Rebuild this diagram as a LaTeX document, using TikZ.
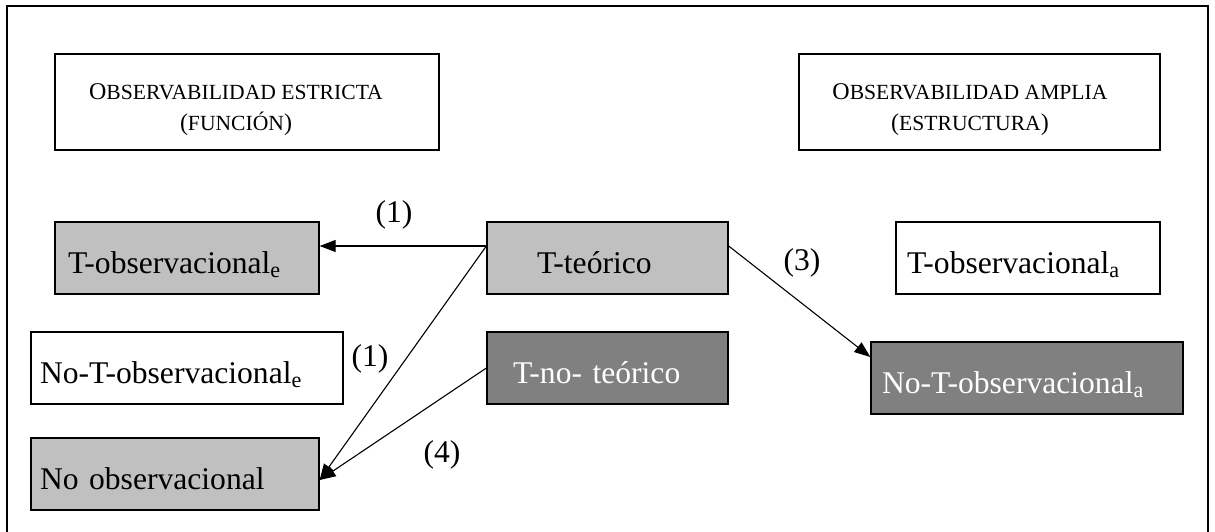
\documentclass[tikz,border=0pt]{standalone}
\usepackage{fontspec}
\setmainfont{Liberation Serif}
\usetikzlibrary{arrows.meta}

\definecolor{lightfill}{HTML}{C0C0C0}
\definecolor{darkfill}{HTML}{808080}

% small capitals made by hand (the font has none)
\newcommand\fsc[1]{{\fontsize{10.8}{15.5}\selectfont #1}}

\tikzset{
  box/.style={draw, line width=0.65pt, minimum height=36pt, inner ysep=0pt,
    align=left, text height=15pt, text depth=0pt,
    font=\fontsize{15.8}{19}\selectfont},
  light/.style={box, fill=lightfill},
  dark/.style={box, fill=darkfill, text=white},
  headbox/.style={draw, line width=0.65pt, minimum width=#1, minimum height=48pt},
  headtext/.style={anchor=base, align=center, inner sep=0pt,
    font=\fontsize{12}{15.5}\selectfont},
  num/.style={inner sep=0pt, font=\fontsize{15.8}{19}\selectfont},
  arr/.style={line width=0.55pt, -{Triangle[length=8pt,width=6pt]}}
}

\begin{document}
\begin{tikzpicture}[x=0.5pt, y=-0.5pt]
        \useasboundingbox (0,0) rectangle (1215,531);
        \draw[line width=0.65pt] (7,6) rectangle (1208,560);

        \node[headbox=192pt] at (247,102) (estricta) {};
        \node[headtext] at (236,130) (estricta-t) {O\fsc{BSERVABILIDAD ESTRICTA}\\(\fsc{FUNCIÓN})};
        \node[headbox=180.5pt] at (979.5,102) (amplia) {};
        \node[headtext] at (970,130) (amplia-t) {O\fsc{BSERVABILIDAD AMPLIA}\\(\fsc{ESTRUCTURA})};

        \node[light, inner xsep=6.5pt, text width=119pt] at (187,258) (tobse) {T-observacional\textsubscript{e}};
        \node[box, inner xsep=4.5pt, text width=147pt] at (187,368) (nobse) {No-T-observacional\textsubscript{e}};
        \node[light, inner xsep=4.5pt, text width=135pt] at (175,474) (noobs) {No observacional};
        \node[light, inner xsep=25pt, text width=70.5pt] at (607.5,258) (tteo) {T-teórico};
        \node[dark, inner xsep=13pt, text width=94.5pt] at (607.5,368) (tnoteo) {T-no- teórico};
        \node[box, inner xsep=5.5pt, text width=121pt] at (1028,258) (tobsa) {T-observacional\textsubscript{a}};
        \node[dark, inner xsep=5.5pt, text width=145pt] at (1027,378) (nobsa) {No-T-observacional\textsubscript{a}};

        \node[num] at (394,215) (n1a) {(1)};
        \node[num] at (370,359) (n1b) {(1)};
        \node[num] at (802,263) (n3) {(3)};
        \node[num] at (442,455) (n4) {(4)};

        \draw[arr] ([yshift=6pt]tteo.west) -- ([yshift=6pt]tobse.east);
        \draw[arr] ([yshift=6pt]tteo.west) -- ([yshift=-3pt]noobs.east);
        \draw[arr] (tnoteo.west) -- ([yshift=-3pt]noobs.east);
        \draw[arr] ([yshift=6pt]tteo.east) -- ([yshift=10.5pt]nobsa.west);
\end{tikzpicture}
\end{document}
